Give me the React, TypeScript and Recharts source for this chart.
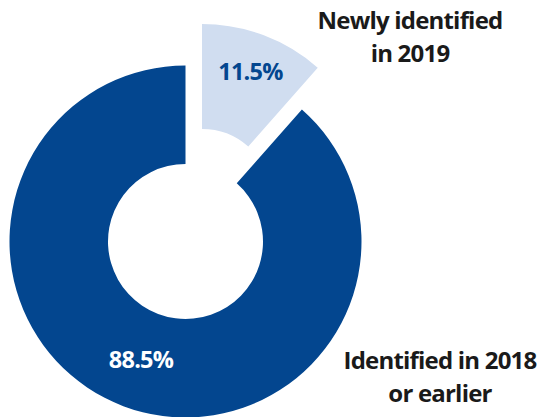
import React from 'react';
import { PieChart, Pie, Cell } from 'recharts';

const categories = ['Newly identified in 2019', 'Identified in 2018 or earlier'];
const values = [11.5, 88.5];
const valueLabels = ['11.5%', '88.5%'];
const nameLines = [['Newly identified', 'in 2019'], ['Identified in 2018', 'or earlier']];

const data = categories.map((name, i) => ({ name, value: values[i] }));

const DARK = '#03468f';
const LIGHT = '#d0ddf0';
const TEXT = '#1a1a1a';
const FONT = '"Open Sans", "Noto Sans", sans-serif';
const RAD = Math.PI / 180;

const makeLabel = (which: number, rFactor: number, valueColor: string, namePos: { x: number; y: number }) => (props: any) => {
  const { cx, cy, midAngle, index } = props;
  if (index !== which) return <g key={`l-${index}`} />;
  const r = rFactor;
  const x = cx + r * Math.cos(-midAngle * RAD);
  const y = cy + r * Math.sin(-midAngle * RAD);
  const lines = nameLines[index];
  return (
    <g key={`l-${index}`}>
      <text x={x} y={y + 9} textAnchor="middle" fill={valueColor} fontFamily={FONT} fontWeight={700} fontSize={23.5} letterSpacing={-0.8}>
        {valueLabels[index]}
      </text>
      {lines.map((t, k) => (
        <text key={k} x={namePos.x} y={namePos.y + k * 33} textAnchor="middle" fill={TEXT} fontFamily={FONT} fontWeight={700} fontSize={24} letterSpacing={-0.8}>
          {t}
        </text>
      ))}
    </g>
  );
};

export default function App() {
  return (
    <div style={{ position: 'absolute', left: 0, top: 0, background: '#fff' }}>
      <PieChart width={541} height={417} margin={{ top: 0, right: 0, bottom: 0, left: 0 }}>
        <Pie
          data={data}
          dataKey="value"
          cx={185.5}
          cy={241.5}
          innerRadius={77.5}
          outerRadius={176}
          startAngle={90}
          endAngle={-270}
          stroke="none"
          isAnimationActive={false}
          labelLine={false}
          label={makeLabel(1, 126, '#ffffff', { x: 440, y: 369 })}
        >
          <Cell fill="transparent" />
          <Cell fill={DARK} />
        </Pie>
        <Pie
          data={data}
          dataKey="value"
          cx={202}
          cy={199}
          innerRadius={70}
          outerRadius={175}
          startAngle={90}
          endAngle={-270}
          stroke="none"
          isAnimationActive={false}
          labelLine={false}
          label={makeLabel(0, 137, DARK, { x: 410, y: 29 })}
        >
          <Cell fill={LIGHT} />
          <Cell fill="transparent" />
        </Pie>
      </PieChart>
    </div>
  );
}
